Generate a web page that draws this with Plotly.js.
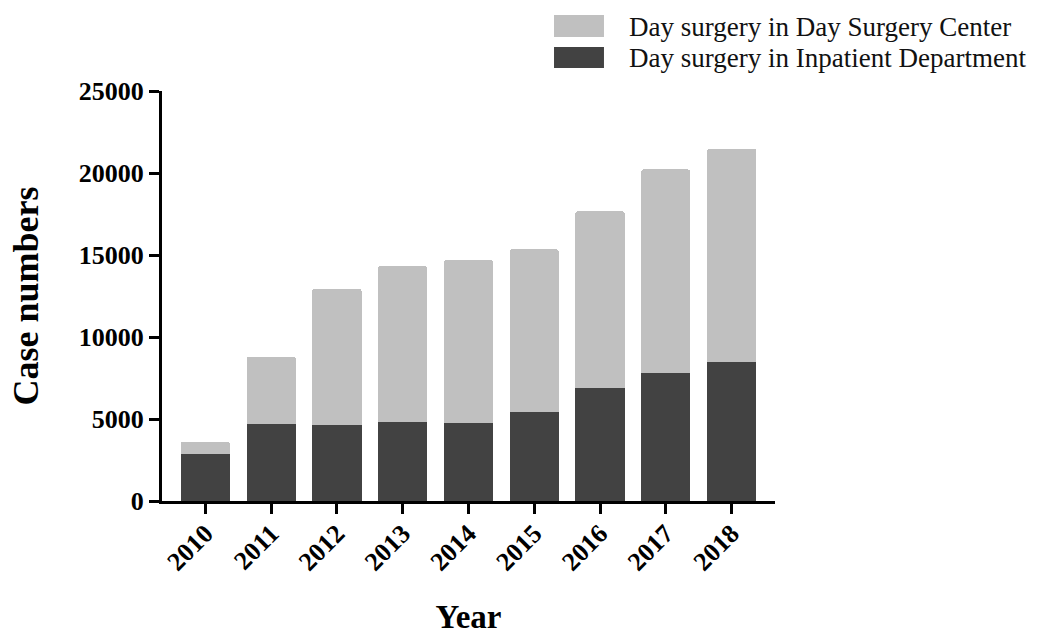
<!DOCTYPE html>
<html>
<head>
<meta charset="utf-8">
<script src="https://cdn.plot.ly/plotly-3.0.1.min.js"></script>
<style>
  html, body { margin: 0; padding: 0; background: #ffffff; }
  #chart { width: 1045px; height: 635px; }
</style>
</head>
<body>
<div id="chart"></div>
<script>
// Data
const years = ['2010', '2011', '2012', '2013', '2014', '2015', '2016', '2017', '2018'];
const inpatientDept = [2860, 4700, 4650, 4800, 4780, 5410, 6870, 7800, 8500];
const daySurgeryCenter = [760, 4100, 8300, 9530, 9920, 9940, 10810, 12420, 12980];
const yTicks = [0, 5000, 10000, 15000, 20000, 25000];
const seriesNames = ['Day surgery in Inpatient Department', 'Day surgery in Day Surgery Center'];
const seriesColors = ['#424242', '#c0c0c0'];

const serif = 'Liberation Serif, Times New Roman, Times, serif';

const traces = [
  {
    type: 'bar',
    name: seriesNames[0],
    x: years,
    y: inpatientDept,
    marker: { color: seriesColors[0], line: { width: 0 }, cornerradius: 3 },
    hoverinfo: 'x+y+name'
  },
  {
    type: 'bar',
    name: seriesNames[1],
    x: years,
    y: daySurgeryCenter,
    marker: { color: seriesColors[1], line: { width: 0 }, cornerradius: 3 },
    hoverinfo: 'x+y+name'
  }
];

// Legend drawn as paper-referenced boxes with text labels (top entry = Day Surgery Center)
const legendRows = [
  { name: seriesNames[1], color: seriesColors[1], y0: 1.1317, y1: 1.1854, ty: 1.1560 },
  { name: seriesNames[0], color: seriesColors[0], y0: 1.0561, y1: 1.1073, ty: 1.0817 }
];
const shapes = legendRows.map(r => ({
  type: 'rect', xref: 'paper', yref: 'paper',
  x0: 0.6395, x1: 0.7210, y0: r.y0, y1: r.y1,
  fillcolor: r.color, line: { width: 0 }
}));
const annotations = legendRows.map(r => ({
  xref: 'paper', yref: 'paper', x: 0.7586, y: r.ty,
  xanchor: 'left', yanchor: 'middle', showarrow: false,
  text: r.name,
  font: { family: serif, size: 27, color: '#111111' }
}));

const layout = {
  width: 1045,
  height: 635,
  margin: { l: 162, r: 270, t: 91, b: 134, autoexpand: false },
  paper_bgcolor: '#ffffff',
  plot_bgcolor: '#ffffff',
  barmode: 'stack',
  bargap: 0.25,
  font: { family: serif, color: '#000000' },
  showlegend: false,
  shapes: shapes,
  annotations: annotations,
  xaxis: {
    type: 'category',
    range: [-0.66, 8.66],
    showline: true, linecolor: '#000000', linewidth: 3,
    ticks: 'outside', ticklen: 10, tickwidth: 3, tickcolor: '#000000',
    tickangle: -45,
    ticklabelstandoff: -6,
    tickfont: { family: serif, size: 26, weight: 'bold', color: '#000000' },
    showgrid: false, zeroline: false,
    automargin: false,
    title: { text: 'Year', font: { family: serif, size: 33, weight: 'bold', color: '#000000' }, standoff: 32 }
  },
  yaxis: {
    range: [0, 25000],
    tickvals: yTicks,
    ticktext: yTicks.map(String),
    showline: true, linecolor: '#000000', linewidth: 3,
    ticks: 'outside', ticklen: 10, tickwidth: 3, tickcolor: '#000000',
    tickfont: { family: serif, size: 26, weight: 'bold', color: '#000000' },
    showgrid: false, zeroline: false,
    automargin: false,
    title: { text: 'Case numbers', font: { family: serif, size: 36, weight: 'bold', color: '#000000' }, standoff: 30 }
  }
};

Plotly.newPlot('chart', traces, layout, { displayModeBar: false, staticPlot: true });
</script>
</body>
</html>
